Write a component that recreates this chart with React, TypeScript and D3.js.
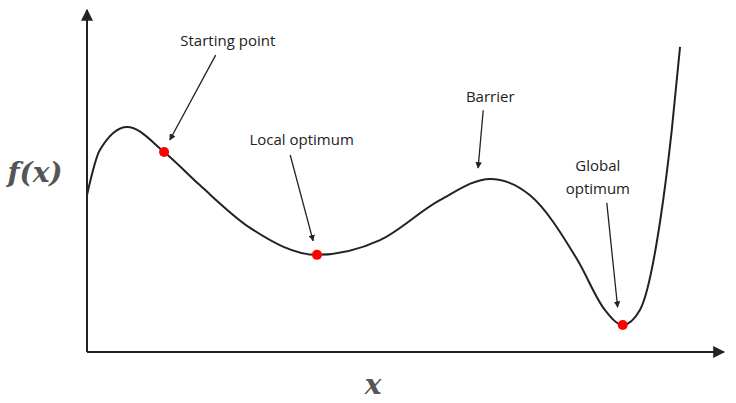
import * as d3 from 'd3'

const curveX = [0, 0.2, 0.63, 1.21, 1.77, 2.56, 3.61, 4.6, 5.54, 6.33, 6.95, 7.7, 8.13, 8.41, 8.68, 9.0, 9.18, 9.31]
const curveY = [4.59, 5.9, 6.58, 5.85, 4.88, 3.63, 2.84, 3.27, 4.44, 5.06, 4.59, 2.69, 1.23, 0.79, 1.23, 3.86, 6.49, 8.92]

const dotX = [1.21, 3.61, 8.41]
const dotY = [5.85, 2.84, 0.79]

const labels = [
  { lines: ['Starting point'], lx: 2.21, ly: 9.1, from: [2.02, 8.68], to: [1.30, 6.2] },
  { lines: ['Local optimum'], lx: 3.37, ly: 6.2, from: [3.19, 5.76], to: [3.55, 3.25] },
  { lines: ['Barrier'], lx: 6.33, ly: 7.45, from: [6.22, 7.07], to: [6.14, 5.38] },
  { lines: ['Global', 'optimum'], lx: 8.02, ly: 5.45, from: [8.16, 4.36], to: [8.33, 1.31] },
]

const x = d3.scaleLinear().domain([0, 10]).range([87, 724])
const y = d3.scaleLinear().domain([0, 10]).range([352, 10])

export default function App() {
  const pts = curveX.map((v, i) => [v, curveY[i]] as [number, number])
  const line = d3.line<[number, number]>()
    .x(d => x(d[0]))
    .y(d => y(d[1]))
    .curve(d3.curveMonotoneX)

  return (
    <svg width={736} height={403} style={{ position: 'absolute', left: 0, top: 0 }}>
      <defs>
        <marker id="ah" viewBox="0 0 10 10" refX="9" refY="5" markerWidth="5" markerHeight="5" orient="auto">
          <path d="M0,0 L10,5 L0,10 z" fill="#222" />
        </marker>
        <marker id="axh" viewBox="0 0 10 10" refX="9" refY="5" markerWidth="6" markerHeight="6" orient="auto">
          <path d="M0,0 L10,5 L0,10 z" fill="#222" />
        </marker>
      </defs>
      <rect width={736} height={403} fill="#fff" />
      <line x1={x(0)} y1={y(0)} x2={x(0)} y2={10} stroke="#222" strokeWidth={2} markerEnd="url(#axh)" />
      <line x1={x(0)} y1={y(0)} x2={724} y2={y(0)} stroke="#222" strokeWidth={2} markerEnd="url(#axh)" />
      <path d={line(pts) ?? ''} fill="none" stroke="#222" strokeWidth={2} />
      {dotX.map((v, i) => (
        <circle key={i} cx={x(v)} cy={y(dotY[i])} r={5} fill="#f00" />
      ))}
      {labels.map((l, i) => (
        <g key={i}>
          <line x1={x(l.from[0])} y1={y(l.from[1])} x2={x(l.to[0])} y2={y(l.to[1])}
            stroke="#222" strokeWidth={1.3} markerEnd="url(#ah)" />
          {l.lines.map((t, j) => (
            <text key={j} x={x(l.lx)} y={y(l.ly) + 5 + j * 23} textAnchor="middle"
              fontFamily="Open Sans, sans-serif" fontSize={15} fill="#222">{t}</text>
          ))}
        </g>
      ))}
      <text x={35} y={182} textAnchor="middle" fontFamily="DejaVu Serif, serif" fontStyle="italic"
        fontWeight="bold" fontSize={28} fill="#555">f(x)</text>
      <text x={373} y={394} textAnchor="middle" fontFamily="DejaVu Serif, serif" fontStyle="italic"
        fontWeight="bold" fontSize={28} fill="#555">x</text>
    </svg>
  )
}
